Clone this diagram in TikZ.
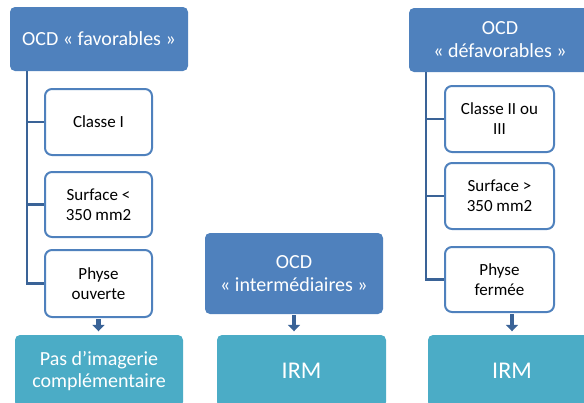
\documentclass[tikz,border=0pt]{standalone}
\usepackage{fontspec}
\setmainfont{Carlito}
\usetikzlibrary{arrows.meta}

\definecolor{headblue}{HTML}{4F81BD}
\definecolor{endteal}{HTML}{4BACC6}
\definecolor{linkblue}{HTML}{3A6397}

\begin{document}
\begin{tikzpicture}[x=1pt, y=-1pt,
  head/.style={fill=headblue, rounded corners=5pt, inner sep=0pt, align=center,
    text=white, font=\fontsize{20}{23}\selectfont},
  crit/.style={draw=headblue, line width=2pt, fill=white, rounded corners=7pt,
    inner sep=0pt, align=center, font=\fontsize{17}{20}\selectfont},
  result/.style={fill=endteal, rounded corners=5pt, inner sep=0pt, align=center,
    text=white, minimum height=72pt},
  link/.style={draw=linkblue, line width=2.7pt},
  down/.style={draw=linkblue, line width=4.5pt, shorten <=1pt, shorten >=3.5pt,
    -{Triangle[width=12pt,length=6.5pt]}}]
\useasboundingbox (0,0) rectangle (584,402);
\clip (0,0) rectangle (584,402);

% en-tetes
\node[head, minimum width=178pt, minimum height=64pt] (favH) at (99,39) {OCD « favorables »};
\node[head, minimum width=178pt, minimum height=81pt] (interH) at (294,273.5) {OCD\\« intermédiaires »};
\node[head, minimum width=182pt, minimum height=64pt] (defavH) at (500,40) {OCD\\« défavorables »};

% criteres favorables
\node[crit, minimum width=107pt, minimum height=66pt] (favA) at (98.5,122) {Classe I};
\node[crit, minimum width=107pt, minimum height=65pt] (favB) at (98.5,204.5) {Surface <\\350 mm2};
\node[crit, minimum width=107pt, minimum height=67pt] (favC) at (98.5,283.5) {Physe\\ouverte};

% criteres defavorables
\node[crit, minimum width=109pt, minimum height=66pt] (defA) at (499.5,119) {Classe II ou\\III};
\node[crit, minimum width=109pt, minimum height=66pt] (defB) at (499.5,196) {Surface >\\350 mm2};
\node[crit, minimum width=109pt, minimum height=65pt] (defC) at (499.5,279.5) {Physe\\fermée};

% conduites
\node[result, minimum width=168pt, font=\fontsize{20}{22}\selectfont] (favR) at (99,371) {Pas d’imagerie\\complémentaire};
\node[result, minimum width=169pt, font=\fontsize{24}{28}\selectfont] (interR) at (301.5,371) {IRM};
\node[result, minimum width=168pt, font=\fontsize{24}{28}\selectfont] (defavR) at (512,371) {IRM};

% arbres
\coordinate (favT) at (27,71);
\coordinate (defT) at (426,72);
\draw[link] (favT) |- (favA.west);
\draw[link] (favT) |- (favB.west);
\draw[link] (favT) |- (favC.west);
\draw[link] (defT) |- (defA.west);
\draw[link] (defT) |- (defB.west);
\draw[link] (defT) |- (defC.west);

% fleches
\draw[down] (favC.south) -- (favC.south |- favR.north);
\draw[down] (interH.south) -- (interH.south |- interR.north);
\draw[down] (defC.south -| defavR.north) -- (defavR.north);
\end{tikzpicture}
\end{document}
